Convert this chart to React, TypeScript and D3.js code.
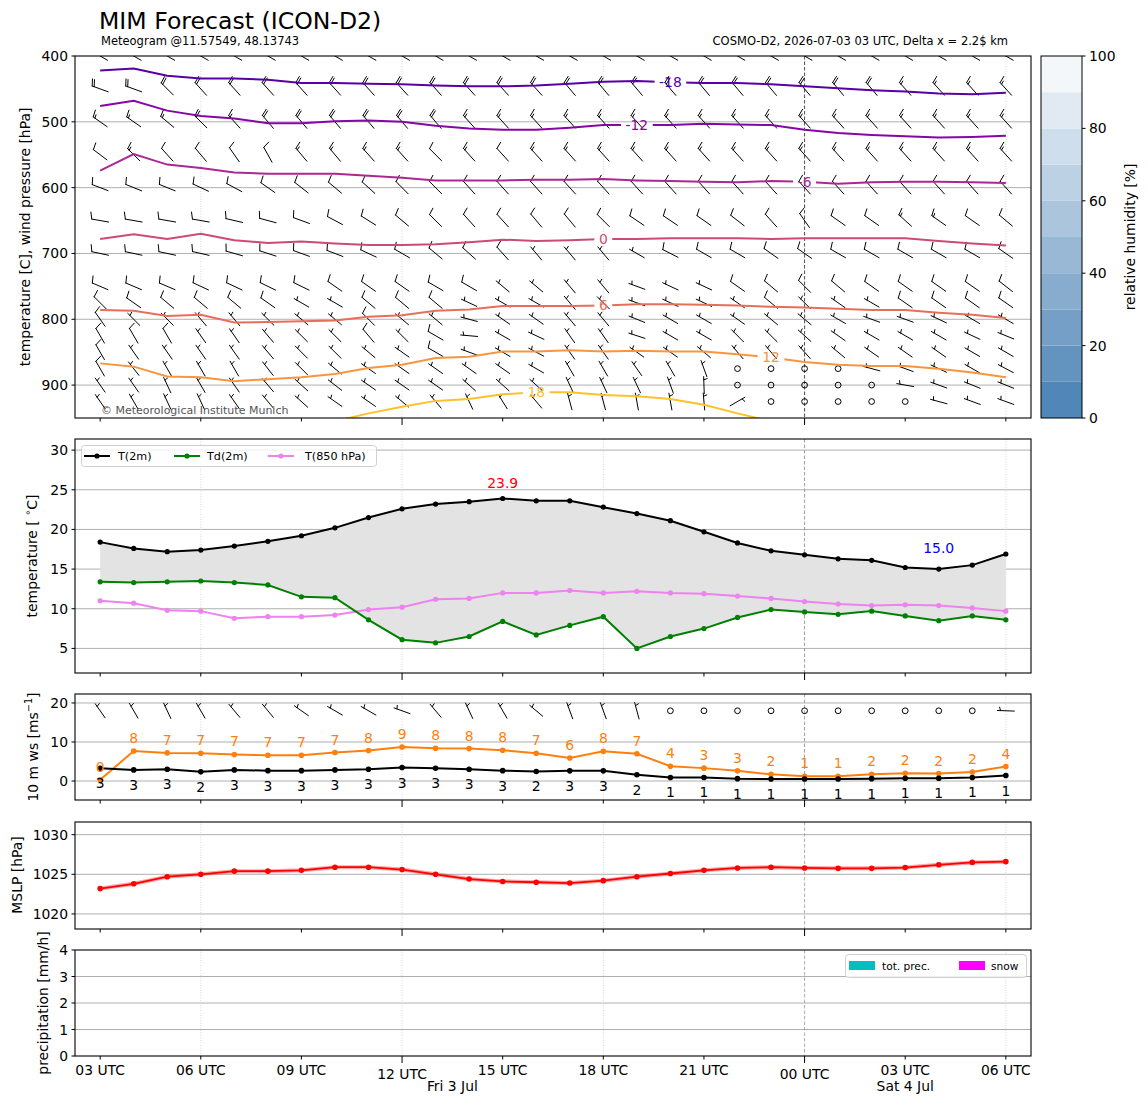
import * as d3 from 'd3'

// model run and hourly lead times
const RUN_START = Date.UTC(2026, 6, 3, 3)
const HOUR = 3600 * 1000
const LEAD_HOURS = [0, 1, 2, 3, 4, 5, 6, 7, 8, 9, 10, 11, 12, 13, 14, 15, 16, 17, 18, 19, 20, 21, 22, 23, 24, 25, 26, 27]

// surface temperatures [°C]
const T2M = [18.4, 17.6, 17.2, 17.4, 17.9, 18.5, 19.2, 20.2, 21.5, 22.6, 23.2, 23.5, 23.9, 23.6, 23.6, 22.8, 22.0, 21.1, 19.7, 18.3, 17.3, 16.8, 16.3, 16.1, 15.2, 15.0, 15.5, 16.9]
const TD2M = [13.4, 13.3, 13.4, 13.5, 13.3, 13.0, 11.5, 11.4, 8.6, 6.1, 5.7, 6.5, 8.4, 6.7, 7.9, 9.0, 5.0, 6.5, 7.5, 8.9, 9.9, 9.6, 9.3, 9.7, 9.1, 8.5, 9.1, 8.6]
const T850 = [11.0, 10.7, 9.8, 9.7, 8.8, 9.0, 9.0, 9.2, 9.9, 10.2, 11.2, 11.3, 12.0, 12.0, 12.3, 12.0, 12.2, 12.0, 11.9, 11.6, 11.3, 10.9, 10.6, 10.4, 10.5, 10.4, 10.1, 9.7]

// 10 m wind [m/s], direction [deg]
const WS10 = [3.25, 2.85, 3.0, 2.35, 2.85, 2.65, 2.65, 2.85, 3.0, 3.45, 3.25, 3.0, 2.65, 2.45, 2.6, 2.6, 1.6, 0.9, 0.9, 0.6, 0.5, 0.5, 0.5, 0.6, 0.7, 0.7, 0.9, 1.4]
const GUST10 = [0.3, 7.7, 7.2, 7.1, 6.8, 6.6, 6.6, 7.3, 7.8, 8.7, 8.4, 8.3, 7.9, 7.1, 5.9, 7.6, 7.0, 3.8, 3.3, 2.6, 1.7, 1.2, 1.2, 1.7, 2.0, 1.9, 2.3, 3.7]
const WDIR10 = [325, 330, 335, 330, 320, 320, 305, 300, 300, 290, 320, 335, 330, 310, 340, 340, 345, 0, 0, 0, 0, 0, 0, 0, 0, 0, 0, 272]

// sea level pressure [hPa]
const MSLP = [1023.2, 1023.8, 1024.7, 1025.0, 1025.4, 1025.4, 1025.5, 1025.9, 1025.9, 1025.6, 1025.0, 1024.4, 1024.1, 1024.0, 1023.9, 1024.2, 1024.7, 1025.1, 1025.5, 1025.8, 1025.9, 1025.8, 1025.75, 1025.75, 1025.85, 1026.2, 1026.5, 1026.6]

// precipitation [mm/h]
const PRECIP_TOT = [0, 0, 0, 0, 0, 0, 0, 0, 0, 0, 0, 0, 0, 0, 0, 0, 0, 0, 0, 0, 0, 0, 0, 0, 0, 0, 0, 0]
const PRECIP_SNOW = [0, 0, 0, 0, 0, 0, 0, 0, 0, 0, 0, 0, 0, 0, 0, 0, 0, 0, 0, 0, 0, 0, 0, 0, 0, 0, 0, 0]

// isotherms: pressure [hPa] of each level per lead hour
const ISO_LEVELS = [-18, -12, -6, 0, 6, 12, 18]
const ISO_M18 = [422, 419, 430, 434, 434, 436, 441, 441, 442, 443, 445, 446, 446, 445, 442, 439, 438, 440, 441, 441, 443, 446, 449, 452, 454, 457, 458, 456]
const ISO_M12 = [476, 468, 483, 491, 495, 502, 502, 499, 498, 500, 506, 510, 512, 512, 509, 505, 505, 505, 503, 504, 505, 512, 517, 520, 522, 524, 523, 521]
const ISO_M6 = [574, 549, 565, 570, 577, 579, 579, 579, 582, 585, 589, 589, 589, 588, 588, 587, 589, 590, 591, 592, 590, 591, 594, 592, 591, 591, 592, 593]
const ISO_0 = [678, 671, 678, 670, 680, 684, 682, 685, 687, 687, 686, 683, 679, 681, 680, 678, 678, 677, 677, 677, 678, 677, 677, 677, 677, 681, 685, 688]
const ISO_6 = [786, 787, 795, 793, 805, 804, 803, 802, 796, 794, 787, 785, 780, 780, 780, 779, 777, 777, 778, 779, 781, 782, 784, 786, 786, 790, 793, 798]
const ISO_12 = [867, 872, 887, 888, 894, 891, 888, 883, 874, 869, 859, 857, 849, 849, 847, 849, 848, 849, 849, 853, 858, 865, 869, 871, 871, 875, 881, 888]
const ISO_18 = [962, 962, 962, 962, 962, 962, 960, 955, 943, 933, 924, 921, 914, 911, 911, 915, 917, 921, 930, 943, 955, 962, 962, 962, 962, 962, 962, 962]
const ISO_LABEL_HOUR = [17, 16, 21, 15, 15, 20, 13]

// upper-air wind: speed [kt] and direction [deg]
const WIND_LEVELS = [400, 450, 500, 550, 600, 650, 700, 750, 775, 800, 825, 850, 875, 900, 925]
const SPD_400 = [20, 20, 20, 20, 20, 20, 20, 20, 20, 20, 20, 20, 20, 20, 20, 20, 20, 20, 20, 20, 20, 20, 20, 20, 20, 20, 20, 20]
const DIR_400 = [300, 300, 300, 300, 300, 300, 300, 300, 300, 300, 300, 300, 300, 300, 300, 300, 300, 300, 300, 300, 300, 300, 300, 300, 300, 300, 300, 300]
const SPD_450 = [20, 20, 20, 20, 20, 20, 20, 20, 20, 20, 20, 20, 20, 20, 20, 20, 20, 20, 20, 20, 20, 20, 20, 20, 15, 15, 15, 15]
const DIR_450 = [290, 290, 315, 318, 318, 318, 318, 318, 318, 318, 318, 318, 318, 318, 320, 320, 320, 320, 320, 320, 320, 320, 320, 320, 318, 318, 318, 318]
const SPD_500 = [15, 15, 15, 20, 15, 20, 20, 20, 20, 20, 20, 15, 15, 15, 15, 15, 15, 15, 15, 15, 15, 15, 15, 15, 15, 15, 15, 15]
const DIR_500 = [305, 305, 310, 315, 318, 320, 320, 320, 320, 320, 320, 318, 318, 318, 318, 318, 318, 318, 318, 318, 318, 318, 318, 318, 318, 318, 318, 318]
const SPD_550 = [10, 15, 10, 10, 10, 10, 15, 15, 15, 15, 10, 15, 10, 15, 15, 15, 15, 15, 15, 15, 15, 15, 15, 15, 15, 15, 15, 15]
const DIR_550 = [307, 315, 318, 320, 325, 331, 320, 320, 318, 318, 315, 318, 318, 318, 318, 318, 318, 318, 318, 318, 318, 318, 318, 318, 318, 318, 318, 318]
const SPD_600 = [10, 10, 10, 10, 10, 10, 10, 10, 10, 10, 10, 10, 10, 10, 10, 10, 10, 10, 10, 10, 10, 10, 10, 10, 10, 10, 10, 10]
const DIR_600 = [291, 292, 292, 295, 298, 305, 308, 310, 312, 315, 315, 318, 318, 318, 318, 318, 318, 318, 318, 318, 318, 318, 318, 318, 318, 318, 318, 318]
const SPD_650 = [10, 10, 10, 10, 10, 10, 10, 10, 10, 10, 10, 10, 10, 10, 10, 10, 10, 10, 10, 10, 10, 10, 10, 10, 15, 15, 10, 10]
const DIR_650 = [280, 280, 280, 280, 283, 285, 290, 298, 302, 310, 315, 318, 318, 320, 320, 315, 304, 304, 305, 308, 318, 325, 305, 305, 312, 305, 305, 310]
const SPD_700 = [10, 10, 10, 10, 10, 10, 10, 10, 10, 10, 10, 10, 10, 5, 5, 5, 5, 10, 10, 10, 10, 10, 10, 10, 10, 10, 10, 10]
const DIR_700 = [282, 282, 282, 283, 286, 288, 290, 291, 295, 300, 310, 312, 318, 320, 320, 320, 300, 297, 300, 300, 305, 305, 300, 300, 300, 300, 300, 305]
const SPD_750 = [10, 10, 10, 10, 10, 10, 10, 10, 10, 10, 10, 10, 5, 5, 5, 5, 5, 5, 5, 10, 10, 10, 10, 10, 10, 10, 10, 10]
const DIR_750 = [293, 293, 293, 295, 295, 296, 296, 305, 305, 305, 300, 300, 310, 310, 320, 320, 290, 295, 295, 305, 310, 315, 310, 305, 305, 305, 305, 308]
const SPD_775 = [10, 10, 10, 10, 10, 10, 5, 5, 10, 10, 10, 5, 5, 5, 5, 5, 5, 5, 5, 5, 10, 5, 5, 5, 10, 10, 10, 10]
const DIR_775 = [315, 305, 310, 310, 310, 305, 300, 300, 310, 310, 310, 295, 300, 300, 320, 315, 290, 295, 295, 305, 310, 315, 305, 300, 305, 305, 305, 305]
const SPD_800 = [10, 5, 5, 5, 5, 5, 5, 5, 10, 5, 5, 5, 5, 5, 5, 5, 5, 5, 5, 5, 5, 5, 5, 5, 5, 5, 5, 5]
const DIR_800 = [325, 315, 315, 320, 320, 315, 310, 310, 315, 310, 310, 285, 305, 305, 320, 320, 292, 300, 300, 305, 310, 310, 300, 290, 290, 295, 300, 300]
const SPD_825 = [10, 10, 10, 5, 5, 5, 5, 5, 10, 5, 10, 5, 5, 5, 5, 5, 5, 5, 5, 5, 5, 5, 5, 5, 5, 5, 5, 5]
const DIR_825 = [330, 330, 330, 325, 325, 320, 315, 315, 320, 315, 300, 275, 300, 295, 325, 325, 288, 300, 300, 315, 315, 312, 305, 300, 300, 300, 295, 292]
const SPD_850 = [10, 5, 5, 5, 5, 5, 5, 5, 5, 5, 10, 5, 5, 5, 5, 5, 5, 5, 5, 5, 5, 5, 5, 5, 5, 5, 5, 5]
const DIR_850 = [330, 325, 325, 325, 325, 320, 315, 315, 310, 305, 300, 290, 300, 298, 325, 325, 305, 305, 310, 320, 320, 318, 310, 305, 305, 305, 300, 300]
const SPD_875 = [10, 5, 5, 5, 5, 5, 5, 5, 5, 5, 5, 5, 5, 5, 5, 5, 5, 5, 5, 0, 0, 0, 0, 5, 5, 5, 5, 5]
const DIR_875 = [330, 322, 330, 330, 330, 322, 315, 310, 305, 305, 305, 305, 305, 300, 330, 330, 325, 330, 340, 0, 0, 0, 0, 285, 290, 295, 300, 298]
const SPD_900 = [5, 5, 5, 5, 5, 5, 5, 5, 5, 5, 5, 5, 5, 5, 5, 5, 5, 5, 5, 0, 0, 0, 0, 0, 5, 5, 5, 5]
const DIR_900 = [325, 325, 335, 330, 325, 320, 312, 308, 305, 305, 305, 312, 312, 312, 335, 335, 335, 340, 358, 0, 0, 0, 0, 0, 280, 290, 292, 292]
const SPD_925 = [5, 5, 5, 5, 5, 5, 5, 5, 5, 5, 5, 5, 5, 5, 5, 5, 5, 5, 5, 5, 0, 0, 0, 0, 0, 5, 5, 5]
const DIR_925 = [325, 330, 335, 335, 325, 320, 312, 305, 305, 310, 320, 335, 328, 320, 345, 345, 350, 350, 355, 60, 0, 0, 0, 0, 0, 285, 290, 290]

const RH_TICKS = [0, 20, 40, 60, 80, 100]
const RH_BOUNDS = [0, 10, 20, 30, 40, 50, 60, 70, 80, 90, 100]

const W = 1148
const H = 1105
const X0 = 75
const X1 = 1031
const FONT = 'DejaVu Sans, Verdana, sans-serif'
const FS = 13.9
const BARB_LEN = 17
const KT_PER_MS = 1.943844

function barb(cx: number, cy: number, speed: number, dirDeg: number, L: number, key: string) {
  const s = Math.round(speed / 5) * 5
  if (s === 0) {
    return <circle key={key} cx={cx} cy={cy} r={0.17 * L} fill="none" stroke="#000" strokeWidth={1} />
  }
  const a = (dirDeg * Math.PI) / 180
  const dx = Math.sin(a)
  const dy = -Math.cos(a)
  const fx = -dy
  const fy = dx
  const sx = cx - (dx * L) / 2
  const sy = cy - (dy * L) / 2
  const P = (t: number) => [sx + dx * t, sy + dy * t]
  const fh = 0.4 * L
  const fw = 0.25 * L
  const sp = 0.125 * L
  let d = `M${sx},${sy}L${sx + dx * L},${sy + dy * L}`
  let flagPath = ''
  const nFlag = Math.floor(s / 50)
  const rem = s - nFlag * 50
  const nFull = Math.floor(rem / 10)
  const half = rem - nFull * 10 >= 5
  let off = L
  for (let i = 0; i < nFlag; i++) {
    const [px, py] = P(off)
    const [mx, my] = P(off - fw / 2)
    const [bx, by] = P(off - fw)
    flagPath += `M${px},${py}L${mx + fx * fh},${my + fy * fh}L${bx},${by}Z`
    off -= fw + sp
  }
  for (let i = 0; i < nFull; i++) {
    const [px, py] = P(off)
    d += `M${px},${py}L${px + fx * fh + (dx * fw) / 2},${py + fy * fh + (dy * fw) / 2}`
    off -= sp
  }
  if (half) {
    if (off === L) off -= 1.5 * sp
    const [px, py] = P(off)
    d += `M${px},${py}L${px + (fx * fh) / 2 + (dx * fw) / 4},${py + (fy * fh) / 2 + (dy * fw) / 4}`
  }
  return (
    <g key={key}>
      <path d={d} stroke="#000" strokeWidth={1} fill="none" strokeLinecap="round" />
      {flagPath && <path d={flagPath} fill="#000" />}
    </g>
  )
}

export default function App() {
  const times = LEAD_HOURS.map(h => new Date(RUN_START + h * HOUR))
  const x = d3
    .scaleUtc()
    .domain([new Date(RUN_START - 0.75 * HOUR), new Date(RUN_START + 27.75 * HOUR)])
    .range([X0, X1])
  const tickTimes = d3.utcHour.every(3)!.range(times[0], new Date(+times[times.length - 1] + 1))
  const gridTimes = tickTimes.filter(t => t.getUTCHours() % 6 === 0)
  const isMajor = (t: Date) => t.getUTCHours() % 12 === 0
  const fmtHour = d3.utcFormat('%H UTC')
  const fmtDay = d3.utcFormat('%a %-d %b')

  const panels = {
    upper: { top: 56, bottom: 418 },
    temp: { top: 439, bottom: 673 },
    wind: { top: 694, bottom: 800 },
    mslp: { top: 822, bottom: 929 },
    prec: { top: 950, bottom: 1056 },
  }

  const yP = d3.scaleLinear().domain([400, 950]).range([panels.upper.top, panels.upper.bottom])
  const yT = d3.scaleLinear().domain([1.9, 31.4]).range([panels.temp.bottom, panels.temp.top])
  const yW = d3.scaleLinear().domain([-4.87, 22.3]).range([panels.wind.bottom, panels.wind.top])
  const yM = d3.scaleLinear().domain([1018.1, 1031.6]).range([panels.mslp.bottom, panels.mslp.top])
  const yR = d3.scaleLinear().domain([0, 4]).range([panels.prec.bottom, panels.prec.top])
  const yC = d3.scaleLinear().domain([0, 100]).range([panels.upper.bottom, panels.upper.top])
  const rhColor = d3.scaleLinear<string>().domain([0, 100]).range(['#4880b4', '#fcfdfe'])
  const plasma = (t: number) => d3.interpolatePlasma(0.51 + 0.02 * t)

  const lineOf = (ys: (v: number) => number) =>
    d3
      .line<number>()
      .x((_, j) => x(times[j]))
      .y(v => ys(v))

  const isotherms = [ISO_M18, ISO_M12, ISO_M6, ISO_0, ISO_6, ISO_12, ISO_18].map((p, k) => ({
    level: ISO_LEVELS[k],
    p,
    labelAt: ISO_LABEL_HOUR[k],
  }))

  const upperWind = [
    [SPD_400, DIR_400], [SPD_450, DIR_450], [SPD_500, DIR_500], [SPD_550, DIR_550], [SPD_600, DIR_600],
    [SPD_650, DIR_650], [SPD_700, DIR_700], [SPD_750, DIR_750], [SPD_775, DIR_775], [SPD_800, DIR_800],
    [SPD_825, DIR_825], [SPD_850, DIR_850], [SPD_875, DIR_875], [SPD_900, DIR_900], [SPD_925, DIR_925],
  ].map(([spd, dir], i) => ({ p: WIND_LEVELS[i], spd, dir }))

  const labelWidth = (s: string) => s.split('').reduce((w, c) => w + (c === '-' ? 0.36 : 0.636) * FS, 0)

  // day labels centred over the visible part of each day
  const first = times[0]
  const last = times[times.length - 1]
  const days = d3.utcDay.range(d3.utcDay.floor(first), last).map(d => {
    const a = Math.max(+d, +first)
    const b = Math.min(+d3.utcDay.offset(d, 1), +last)
    return { d, xm: (x(new Date(a)) + x(new Date(b))) / 2 }
  })

  const vGrid = (p: { top: number; bottom: number }, midnight: string) =>
    gridTimes.map((t, i) =>
      t.getUTCHours() === 0 ? (
        <line key={`vg${i}`} x1={x(t)} x2={x(t)} y1={p.top} y2={p.bottom} stroke={midnight} strokeWidth={0.8} strokeDasharray="3.5,2" />
      ) : (
        <line key={`vg${i}`} x1={x(t)} x2={x(t)} y1={p.top} y2={p.bottom} stroke="#cfcfcf" strokeWidth={0.8} strokeDasharray="1,1.5" />
      ),
    )

  const hGrid = (p: { top: number; bottom: number }, ys: (v: number) => number, ticks: number[]) =>
    ticks.map((v, i) => <line key={`hg${i}`} x1={X0} x2={X1} y1={ys(v)} y2={ys(v)} stroke="#b0b0b0" strokeWidth={1} />)

  const yAxis = (ys: (v: number) => number, ticks: number[]) =>
    ticks.map((v, i) => (
      <g key={`yt${i}`}>
        <line x1={X0 - 3.5} x2={X0} y1={ys(v)} y2={ys(v)} stroke="#000" strokeWidth={1} />
        <text x={X0 - 7} y={ys(v)} textAnchor="end" dominantBaseline="central" fontSize={FS}>
          {v}
        </text>
      </g>
    ))

  const xTicks = (p: { top: number; bottom: number }) =>
    tickTimes.map((t, i) => (
      <line key={`xt${i}`} x1={x(t)} x2={x(t)} y1={p.bottom} y2={p.bottom + (isMajor(t) ? 7 : 3.5)} stroke="#000" strokeWidth={1} />
    ))

  const frame = (p: { top: number; bottom: number }) => (
    <rect x={X0} y={p.top} width={X1 - X0} height={p.bottom - p.top} fill="none" stroke="#000" strokeWidth={1.1} />
  )

  const yLabel = (cx: number, cy: number, content: any) => (
    <text transform={`translate(${cx},${cy}) rotate(-90)`} textAnchor="middle" dominantBaseline="central" fontSize={FS}>
      {content}
    </text>
  )

  const tMaxIdx = d3.maxIndex(T2M)
  const tMinIdx = d3.minIndex(T2M)

  const tempArea = d3
    .area<number>()
    .x((_, j) => x(times[j]))
    .y0((_, j) => yT(TD2M[j]))
    .y1(v => yT(v))

  const barW = x(new Date(RUN_START + HOUR)) - x(times[0])

  return (
    <svg
      width={W}
      height={H}
      style={{ position: 'absolute', left: 0, top: 0, background: '#fff' }}
      fontFamily={FONT}
    >
      <defs>
        {Object.entries(panels).map(([k, p]) => (
          <clipPath id={`clip-${k}`} key={k}>
            <rect x={X0} y={p.top} width={X1 - X0} height={p.bottom - p.top} />
          </clipPath>
        ))}
        {isotherms.map((iso, k) => {
          const lx = x(times[iso.labelAt])
          const ly = yP(iso.p[iso.labelAt])
          const w = labelWidth(String(iso.level)) + 9
          return (
            <mask id={`isoMask${k}`} key={k} maskUnits="userSpaceOnUse" x={0} y={0} width={W} height={H}>
              <rect x={0} y={0} width={W} height={H} fill="white" />
              <rect x={lx - w / 2} y={ly - 9} width={w} height={18} fill="black" />
            </mask>
          )
        })}
      </defs>

      {/* titles */}
      <text x={99} y={29} fontSize={23.6}>MIM Forecast (ICON-D2)</text>
      <text x={101} y={45} fontSize={11.5}>Meteogram @11.57549, 48.13743</text>
      <text x={1008} y={45} fontSize={11.5} textAnchor="end">
        COSMO-D2, 2026-07-03 03 UTC, Delta x = 2.2$ km
      </text>

      {/* ---- upper air panel ---- */}
      <g>
        {hGrid(panels.upper, yP, [500, 600, 700, 800, 900])}
        {vGrid(panels.upper, '#222')}
        <g clipPath="url(#clip-upper)">
          {upperWind.flatMap(lv =>
            times.map((t, j) => barb(x(t), yP(lv.p), lv.spd[j], lv.dir[j], BARB_LEN, `u${lv.p}-${j}`)),
          )}
          {isotherms.map((iso, k) => (
            <path
              key={`iso${k}`}
              d={lineOf(yP)(iso.p) ?? ''}
              fill="none"
              stroke={plasma(iso.level)}
              strokeWidth={2}
              mask={`url(#isoMask${k})`}
            />
          ))}
          {isotherms.map((iso, k) => (
            <text
              key={`isol${k}`}
              x={x(times[iso.labelAt])}
              y={yP(iso.p[iso.labelAt])}
              textAnchor="middle"
              dominantBaseline="central"
              fontSize={FS}
              fill={plasma(iso.level)}
            >
              {iso.level}
            </text>
          ))}
        </g>
        <text x={101} y={414} fontSize={11} fill="#555">
          © Meteorological Institute Munich
        </text>
        {yAxis(yP, [400, 500, 600, 700, 800, 900])}
        {xTicks(panels.upper)}
        {frame(panels.upper)}
        {yLabel(25, 237, 'temperature [C], wind pressure [hPa]')}
      </g>

      {/* colorbar */}
      <g>
        {RH_BOUNDS.slice(0, -1).map((b, i) => (
          <rect
            key={`cb${i}`}
            x={1041}
            y={yC(RH_BOUNDS[i + 1])}
            width={41}
            height={yC(b) - yC(RH_BOUNDS[i + 1])}
            fill={rhColor((b + RH_BOUNDS[i + 1]) / 2)}
          />
        ))}
        <rect x={1041} y={panels.upper.top} width={41} height={panels.upper.bottom - panels.upper.top} fill="none" stroke="#000" strokeWidth={1} />
        {RH_TICKS.map(v => (
          <g key={`cbt${v}`}>
            <line x1={1082} x2={1085.5} y1={yC(v)} y2={yC(v)} stroke="#000" />
            <text x={1089} y={yC(v)} dominantBaseline="central" fontSize={FS}>
              {v}
            </text>
          </g>
        ))}
        <text transform="translate(1130,237) rotate(-90)" textAnchor="middle" dominantBaseline="central" fontSize={FS}>
          relative humidity [%]
        </text>
      </g>

      {/* ---- temperature panel ---- */}
      <g>
        {hGrid(panels.temp, yT, [5, 10, 15, 20, 25, 30])}
        {vGrid(panels.temp, '#888')}
        <g clipPath="url(#clip-temp)">
          <path d={tempArea(T2M) ?? ''} fill="#e3e3e3" />
          <path d={lineOf(yT)(T850) ?? ''} fill="none" stroke="#ee82ee" strokeWidth={2} />
          {T850.map((v, j) => <circle key={`t85${j}`} cx={x(times[j])} cy={yT(v)} r={2.6} fill="#ee82ee" />)}
          <path d={lineOf(yT)(TD2M) ?? ''} fill="none" stroke="#008000" strokeWidth={2} />
          {TD2M.map((v, j) => <circle key={`td${j}`} cx={x(times[j])} cy={yT(v)} r={2.6} fill="#008000" />)}
          <path d={lineOf(yT)(T2M) ?? ''} fill="none" stroke="#000" strokeWidth={2} />
          {T2M.map((v, j) => <circle key={`t2${j}`} cx={x(times[j])} cy={yT(v)} r={2.6} fill="#000" />)}
        </g>
        <text x={x(times[tMaxIdx])} y={yT(T2M[tMaxIdx] + 2)} textAnchor="middle" dominantBaseline="central" fontSize={FS} fill="#ff0000">
          {T2M[tMaxIdx].toFixed(1)}
        </text>
        <text x={x(times[tMinIdx])} y={yT(T2M[tMinIdx] + 2.7)} textAnchor="middle" dominantBaseline="central" fontSize={FS} fill="#0000ff">
          {T2M[tMinIdx].toFixed(1)}
        </text>
        {/* legend */}
        <rect x={81.5} y={445.5} width={295} height={21} rx={3} fill="#fff" fillOpacity={0.8} stroke="#d0d0d0" />
        {[
          { label: 'T(2m)', color: '#000', x0: 84, tx: 118 },
          { label: 'Td(2m)', color: '#008000', x0: 174, tx: 207 },
          { label: 'T(850 hPa)', color: '#ee82ee', x0: 268, tx: 305 },
        ].map(e => (
          <g key={e.label}>
            <line x1={e.x0} x2={e.x0 + 26} y1={456} y2={456} stroke={e.color} strokeWidth={2} />
            <circle cx={e.x0 + 13} cy={456} r={2.6} fill={e.color} />
            <text x={e.tx} y={456} dominantBaseline="central" fontSize={11.2}>
              {e.label}
            </text>
          </g>
        ))}
        {yAxis(yT, [5, 10, 15, 20, 25, 30])}
        {xTicks(panels.temp)}
        {frame(panels.temp)}
        {yLabel(32, 556, (
          <>
            temperature [ <tspan fontSize={FS * 0.7} dy={-5}>∘</tspan>
            <tspan dy={5}>C]</tspan>
          </>
        ))}
      </g>

      {/* ---- 10 m wind panel ---- */}
      <g>
        {hGrid(panels.wind, yW, [0, 10, 20])}
        {vGrid(panels.wind, '#888')}
        <g clipPath="url(#clip-wind)">
          {times.map((t, j) => barb(x(t), yW(18), WS10[j] * KT_PER_MS, WDIR10[j], BARB_LEN, `w${j}`))}
          <path d={lineOf(yW)(GUST10) ?? ''} fill="none" stroke="#ff7f0e" strokeWidth={2} />
          {GUST10.map((v, j) => <circle key={`g${j}`} cx={x(times[j])} cy={yW(v)} r={2.8} fill="#ff7f0e" />)}
          <path d={lineOf(yW)(WS10) ?? ''} fill="none" stroke="#000" strokeWidth={2} />
          {WS10.map((v, j) => <circle key={`ws${j}`} cx={x(times[j])} cy={yW(v)} r={2.8} fill="#000" />)}
        </g>
        {GUST10.map((v, j) => (
          <text key={`gl${j}`} x={x(times[j])} y={yW(v) - 13} textAnchor="middle" dominantBaseline="central" fontSize={FS} fill="#ff7f0e">
            {Math.round(v)}
          </text>
        ))}
        {WS10.map((v, j) => (
          <text key={`wl${j}`} x={x(times[j])} y={yW(v) + 15} textAnchor="middle" dominantBaseline="central" fontSize={FS}>
            {Math.round(v)}
          </text>
        ))}
        {yAxis(yW, [0, 10, 20])}
        {xTicks(panels.wind)}
        {frame(panels.wind)}
        {yLabel(33, 747, (
          <>
            10 m ws [ms<tspan fontSize={FS * 0.7} dy={-5}>−1</tspan>
            <tspan dy={5}>]</tspan>
          </>
        ))}
      </g>

      {/* ---- MSLP panel ---- */}
      <g>
        {hGrid(panels.mslp, yM, [1020, 1025, 1030])}
        {vGrid(panels.mslp, '#999')}
        <g clipPath="url(#clip-mslp)">
          <path d={lineOf(yM)(MSLP) ?? ''} fill="none" stroke="#ff0000" strokeOpacity={0.35} strokeWidth={4} />
          <path d={lineOf(yM)(MSLP) ?? ''} fill="none" stroke="#ff0000" strokeWidth={1.8} />
          {MSLP.map((v, j) => <circle key={`m${j}`} cx={x(times[j])} cy={yM(v)} r={2.8} fill="#ff0000" />)}
        </g>
        {yAxis(yM, [1020, 1025, 1030])}
        {xTicks(panels.mslp)}
        {frame(panels.mslp)}
        {yLabel(17, 875, 'MSLP [hPa]')}
      </g>

      {/* ---- precipitation panel ---- */}
      <g>
        {hGrid(panels.prec, yR, [1, 2, 3])}
        {vGrid(panels.prec, '#999')}
        <g clipPath="url(#clip-prec)">
          {PRECIP_TOT.map((v, j) => (
            <rect key={`pt${j}`} x={x(times[j]) - barW * 0.4} y={yR(v)} width={barW * 0.8} height={yR(0) - yR(v)} fill="#00bfbf" />
          ))}
          {PRECIP_SNOW.map((v, j) => (
            <rect key={`ps${j}`} x={x(times[j]) - barW * 0.4} y={yR(v)} width={barW * 0.8} height={yR(0) - yR(v)} fill="#ff00ff" />
          ))}
        </g>
        <rect x={845.5} y={954.5} width={181} height={23} rx={3} fill="#fff" fillOpacity={0.8} stroke="#d0d0d0" />
        <rect x={849} y={961} width={26} height={9} fill="#00bfbf" />
        <text x={882} y={966} dominantBaseline="central" fontSize={10.6}>tot. prec.</text>
        <rect x={959} y={961} width={26} height={9} fill="#ff00ff" />
        <text x={991} y={966} dominantBaseline="central" fontSize={10.6}>snow</text>
        {yAxis(yR, [0, 1, 2, 3, 4])}
        {xTicks(panels.prec)}
        {frame(panels.prec)}
        {yLabel(43, 1003, 'precipitation [mm/h]')}
        {tickTimes.map((t, i) => (
          <text key={`xl${i}`} x={x(t)} y={isMajor(t) ? 1078.5 : 1075} textAnchor="middle" fontSize={FS}>
            {fmtHour(t)}
          </text>
        ))}
        {days.map(d => (
          <text key={`day${+d.d}`} x={d.xm} y={1091} textAnchor="middle" fontSize={FS}>
            {fmtDay(d.d)}
          </text>
        ))}
      </g>
    </svg>
  )
}
